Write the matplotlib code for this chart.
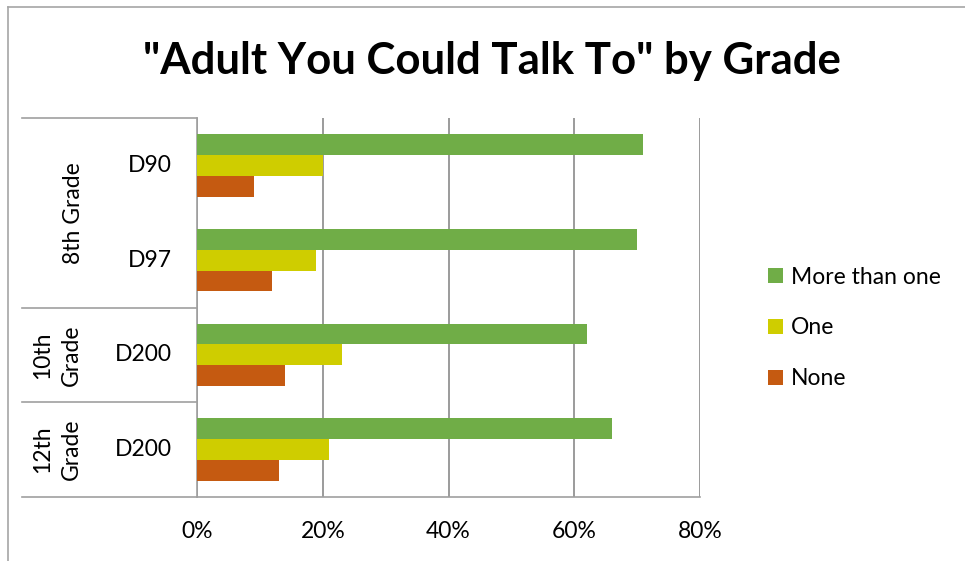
import numpy as np
import matplotlib.pyplot as plt
from matplotlib.transforms import blended_transform_factory
from matplotlib.lines import Line2D

plt.rcParams['font.family'] = ['Lato', 'DejaVu Sans']

districts = ['D90', 'D97', 'D200', 'D200']
grades = ['8th Grade', '10th\nGrade', '12th\nGrade']
grade_span = [(0, 1), (2, 2), (3, 3)]
more_than_one = [71, 70, 62, 66]
one = [20, 19, 23, 21]
none = [9, 12, 14, 13]
xticks = [0, 20, 40, 60, 80]

fig = plt.figure(figsize=(9.65, 5.61), dpi=100)
ax = fig.add_axes([197 / 965, 1 - 497 / 561, 503 / 965, 379 / 561])

y = np.arange(len(districts))
h = 0.22
ax.barh(y - h, more_than_one, height=h, color='#70AD47', label='More than one', zorder=3)
ax.barh(y, one, height=h, color='#CFCD00', label='One', zorder=3)
ax.barh(y + h, none, height=h, color='#C55A11', label='None', zorder=3)

ax.set_xlim(0, 80)
ax.set_ylim(3.5, -0.5)
ax.set_xticks(xticks)
ax.set_xticklabels([f'{v}%' for v in xticks], fontsize=16.5)
ax.tick_params(axis='x', length=0, pad=17)
ax.set_yticks([])
ax.grid(axis='x', color='#8a8a8a', linewidth=1.2, zorder=0)
for s in ['top', 'right']:
    ax.spines[s].set_visible(False)
for s in ['left', 'bottom']:
    ax.spines[s].set_color('#a0a0a0')
    ax.spines[s].set_linewidth(1.2)

# multi-level category axis
tr = blended_transform_factory(ax.transAxes, ax.transData)
x_left = (22 - 197) / 503
for yy in [-0.5, 1.5, 2.5, 3.5]:
    ax.plot([x_left, 0], [yy, yy], color='#a0a0a0', lw=1.2, transform=tr, clip_on=False)
for i, d in enumerate(districts):
    ax.text((172 - 197) / 503, i, d, transform=tr, ha='right', va='center', fontsize=16.5)
for g, (a, b) in zip(grades, grade_span):
    xg = (73 - 197) / 503 if '\n' not in g else (57 - 197) / 503
    ax.text(xg, (a + b) / 2, g, transform=tr, rotation=90, ha='center', va='center',
            fontsize=16.5, multialignment='center', linespacing=1.4)

ax.legend(loc='center left', bbox_to_anchor=(747 / 965, 1 - 328 / 561),
          bbox_transform=fig.transFigure, frameon=False, fontsize=16.5,
          handlelength=0.65, handleheight=0.65, handletextpad=0.35, labelspacing=1.3)

fig.text(492 / 965, 1 - 61 / 561, '"Adult You Could Talk To" by Grade',
         ha='center', va='center', fontsize=31.5, fontweight='bold')

# outer chart border
fig.add_artist(Line2D([8 / 965, 8 / 965], [0, 1 - 7 / 561], color='#a6a6a6', lw=1.2))
fig.add_artist(Line2D([8 / 965, 1], [1 - 7 / 561, 1 - 7 / 561], color='#a6a6a6', lw=1.2))

fig.savefig('out.png', dpi=100)
